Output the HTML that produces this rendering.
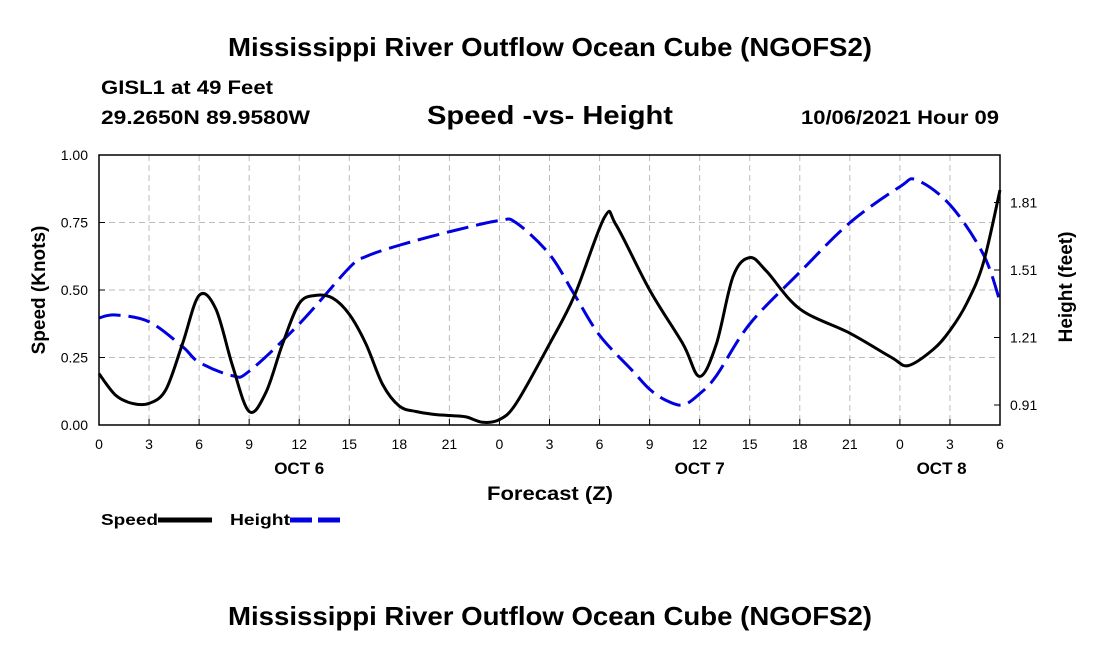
<!DOCTYPE html>
<html><head><meta charset="utf-8">
<style>
body{margin:0;background:#fff;}
svg{display:block;font-family:"Liberation Sans",Arial,sans-serif;}
</style></head>
<body>
<svg id="chart" width="1100" height="650" viewBox="0 0 1100 650">
<text x="228" y="56" textLength="644" lengthAdjust="spacingAndGlyphs" font-size="26" font-weight="bold">Mississippi River Outflow Ocean Cube (NGOFS2)</text>
<text x="101" y="94" textLength="172" lengthAdjust="spacingAndGlyphs" font-size="19" font-weight="bold">GISL1 at 49 Feet</text>
<text x="101" y="124" textLength="209" lengthAdjust="spacingAndGlyphs" font-size="19" font-weight="bold">29.2650N  89.9580W</text>
<text x="427" y="124" textLength="246" lengthAdjust="spacingAndGlyphs" font-size="26" font-weight="bold">Speed -vs- Height</text>
<text x="801" y="124" textLength="198" lengthAdjust="spacingAndGlyphs" font-size="19" font-weight="bold">10/06/2021 Hour 09</text>
<g id="grid"></g>
<g id="series"></g>
<rect x="99" y="155" width="901" height="270" fill="none" stroke="#000" stroke-width="1.5"/>
<g id="axes"></g>
<text x="487" y="500" textLength="126" lengthAdjust="spacingAndGlyphs" font-size="19" font-weight="bold">Forecast (Z)</text>
<text transform="translate(45,290) rotate(-90)" text-anchor="middle" font-size="19" font-weight="bold">Speed (Knots)</text>
<text transform="translate(1072,287) rotate(-90)" text-anchor="middle" font-size="19" font-weight="bold">Height (feet)</text>
<g>
<text x="101" y="525" textLength="57" lengthAdjust="spacingAndGlyphs" font-size="16" font-weight="bold">Speed</text>
<line x1="158" y1="520" x2="212" y2="520" stroke="#000" stroke-width="5"/>
</g>
<g>
<text x="230" y="525" textLength="60" lengthAdjust="spacingAndGlyphs" font-size="16" font-weight="bold">Height</text>
<line x1="290" y1="520" x2="343" y2="520" stroke="#0000e0" stroke-width="5" stroke-dasharray="22,6"/>
</g>
<text x="228" y="625" textLength="644" lengthAdjust="spacingAndGlyphs" font-size="26" font-weight="bold">Mississippi River Outflow Ocean Cube (NGOFS2)</text>
</svg>
<script>
const speedHours=[0,1,2,3,4,5,6,7,8,9,10,11,12,13,14,15,16,17,18,19,20,21,22,23,24,25,27,28.5,30.3,31,33,35,36,37,38,39,40,42,45,47.5,48.5,50,51,52,53,54];
const speedValues=[0.19,0.11,0.08,0.08,0.13,0.3,0.48,0.43,0.22,0.05,0.12,0.3,0.45,0.48,0.47,0.41,0.3,0.15,0.07,0.05,0.04,0.035,0.03,0.01,0.02,0.08,0.3,0.48,0.77,0.74,0.5,0.3,0.18,0.3,0.55,0.62,0.57,0.43,0.34,0.25,0.22,0.28,0.35,0.45,0.6,0.87];
const heightHours=[0,1,3,5,6,8,9,12,15,16,18,21,24,25,27,28.5,30,32,33,34,35,36,37,39,42,45,48,49,51,53,54];
const heightValues=[1.297,1.31,1.28,1.17,1.1,1.04,1.06,1.27,1.52,1.57,1.62,1.68,1.73,1.72,1.58,1.4,1.22,1.06,0.98,0.93,0.91,0.96,1.04,1.27,1.5,1.72,1.88,1.91,1.8,1.58,1.37];
const xTickLabels=["0","3","6","9","12","15","18","21","0","3","6","9","12","15","18","21","0","3","6"];
const speedTicks=[0,0.25,0.5,0.75,1.0];
const heightTicks=[0.91,1.21,1.51,1.81];
const dayLabels=[{h:12,t:"OCT 6"},{h:36,t:"OCT 7"},{h:50.5,t:"OCT 8"}];
const NS="http://www.w3.org/2000/svg";
const X0=99,X1=1000,Y0=425,Y1=155;
const xs=h=>X0+(X1-X0)*h/54;
const ys=v=>Y0-(Y0-Y1)*v;
const yh=v=>405-(v-0.91)*225;
function mk(tag,attrs,parent){const e=document.createElementNS(NS,tag);for(const k in attrs)e.setAttribute(k,attrs[k]);parent.appendChild(e);return e;}
const grid=document.getElementById('grid'),axes=document.getElementById('axes'),series=document.getElementById('series');
xTickLabels.forEach((t,i)=>{const x=xs(i*3);
 if(i>0&&i<18){const g=mk('line',{x1:x,x2:x,y1:Y1,y2:Y0,stroke:'#bbb','stroke-dasharray':'6,4'},grid);
 
 }
 const tk=mk('line',{x1:x,x2:x,y1:Y0,y2:Y0-6,stroke:'#000'},axes);
 
 
 const lb=mk('text',{x:x,y:449,'text-anchor':'middle','font-size':14},axes);lb.textContent=t;
 
 });
dayLabels.forEach(d=>{const lb=mk('text',{x:xs(d.h),y:474,'text-anchor':'middle','font-size':17,'font-weight':'bold'},axes);lb.textContent=d.t;
 
 });
speedTicks.forEach(v=>{const y=ys(v);
 if(v>0&&v<1){const g=mk('line',{x1:X0,x2:X1,y1:y,y2:y,stroke:'#bbb','stroke-dasharray':'6,4'},grid);
 
 }
 const tk=mk('line',{x1:X0,x2:X0+6,y1:y,y2:y,stroke:'#000'},axes);
 
 
 const lb=mk('text',{x:88,y:y+5,'text-anchor':'end','font-size':14},axes);lb.textContent=v.toFixed(2);
 
 });
heightTicks.forEach(v=>{const y=yh(v);
 const tk=mk('line',{x1:X1,x2:X1-6,y1:y,y2:y,stroke:'#000'},axes);
 
 
 const lb=mk('text',{x:1010,y:y+5,'font-size':14},axes);lb.textContent=v.toFixed(2);
 
 });
function smooth(pts){let d=`M${pts[0][0]},${pts[0][1]}`;
 for(let i=0;i<pts.length-1;i++){const p0=pts[i-1]||pts[i],p1=pts[i],p2=pts[i+1],p3=pts[i+2]||p2;
 const c1=[p1[0]+(p2[0]-p0[0])/6,p1[1]+(p2[1]-p0[1])/6],c2=[p2[0]-(p3[0]-p1[0])/6,p2[1]-(p3[1]-p1[1])/6];
 d+=` C${c1[0]},${c1[1]} ${c2[0]},${c2[1]} ${p2[0]},${p2[1]}`;}return d;}
const hp=mk('path',{d:smooth(heightHours.map((h,i)=>[xs(h),yh(heightValues[i])])),fill:'none',stroke:'#0000e0','stroke-width':3,'stroke-dasharray':'22,8'},series);


const sp=mk('path',{d:smooth(speedHours.map((h,i)=>[xs(h),ys(speedValues[i])])),fill:'none',stroke:'#000','stroke-width':3},series);


</script>
</body></html>
